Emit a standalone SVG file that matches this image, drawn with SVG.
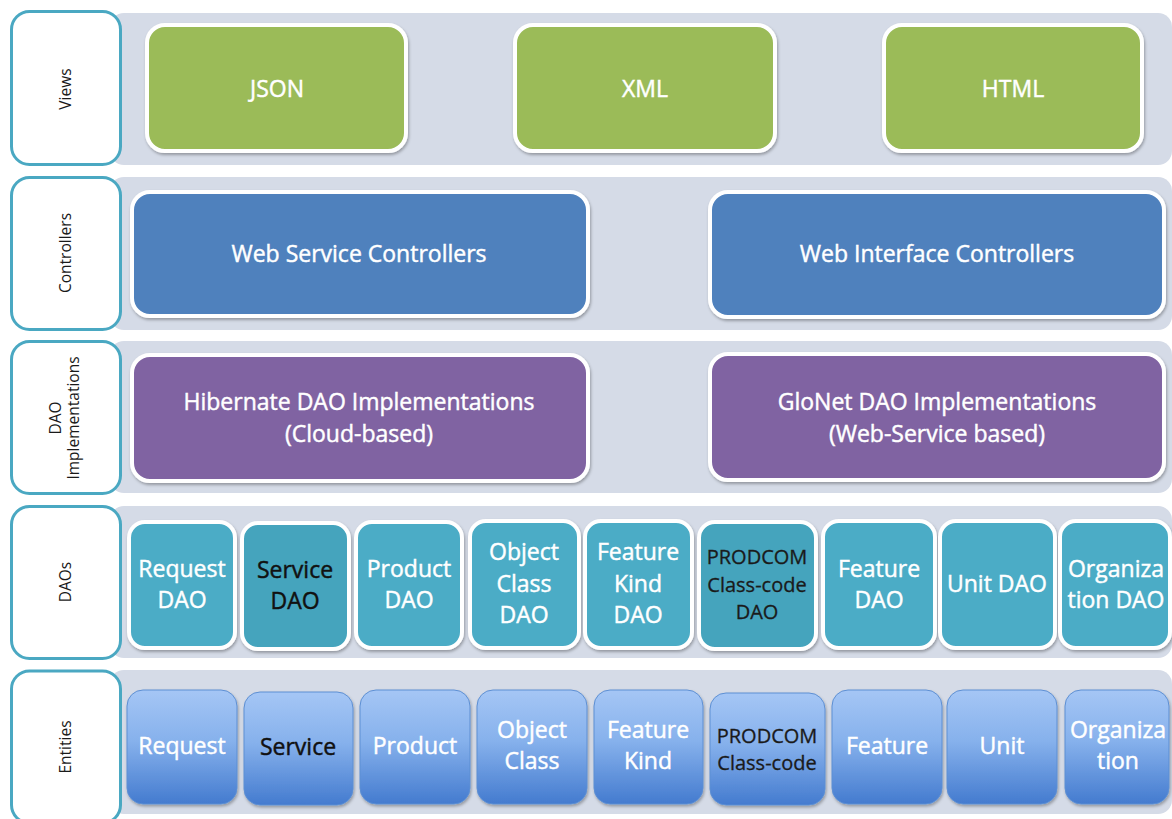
<svg xmlns="http://www.w3.org/2000/svg" width="1172" height="819" viewBox="0 0 1172 819">
<defs>
<style>
text{font-family:"Open Sans","Noto Sans","Liberation Sans",sans-serif;text-anchor:middle}
.band{fill:#d5dbe7}
.lbl rect{fill:#ffffff;stroke:#4aa8c2;stroke-width:3}
.lbl text{font-size:15.5px;fill:#1a1a1a}
.view{fill:#9bbb59;stroke:#ffffff;stroke-width:4}
.ctrl{fill:#4f81bd;stroke:#ffffff;stroke-width:4}
.impl{fill:#8064a2;stroke:#ffffff;stroke-width:4}
.dao{fill:#4bacc6;stroke:#ffffff;stroke-width:4}
.daod{fill:#44a4bd;stroke:#ffffff;stroke-width:4}
.ent{fill:url(#entg);stroke:#5d8fd3;stroke-width:1}
.w{fill:#ffffff;font-size:23px;stroke:#ffffff;stroke-width:0.45}
.k{fill:#111111;font-size:23px;stroke:#111111;stroke-width:0.45}
.ks{fill:#1a1a1a;font-size:20px;stroke:#1a1a1a;stroke-width:0.3}
.sh{filter:url(#sh)}
</style>
<linearGradient id="entg" x1="0" y1="0" x2="0" y2="1">
<stop offset="0" stop-color="#a5c6f5"/>
<stop offset="0.45" stop-color="#86b1ec"/>
<stop offset="1" stop-color="#447bcf"/>
</linearGradient>
<filter id="sh" x="-10%" y="-10%" width="125%" height="130%">
<feDropShadow dx="1" dy="2" stdDeviation="1.8" flood-color="#000000" flood-opacity="0.3"/>
</filter>
</defs>

<g id="bands">
<rect class="band" x="110" y="13" width="1062" height="152" rx="14"/>
<rect class="band" x="110" y="177" width="1062" height="153" rx="14"/>
<rect class="band" x="110" y="341" width="1062" height="152" rx="14"/>
<rect class="band" x="110" y="506" width="1062" height="152" rx="14"/>
<rect class="band" x="110" y="670" width="1062" height="144" rx="14"/>
</g>

<g id="label-views" class="lbl">
<rect x="11.5" y="11.5" width="109" height="153" rx="18"/>
<text transform="translate(70.5,89) rotate(-90)">Views</text>
</g>
<g id="label-controllers" class="lbl">
<rect x="11.5" y="177.5" width="109" height="152" rx="18"/>
<text transform="translate(70.5,253) rotate(-90)">Controllers</text>
</g>
<g id="label-daoimpl" class="lbl">
<rect x="11.5" y="341.5" width="109" height="152" rx="18"/>
<text transform="translate(60.5,418) rotate(-90)">DAO</text>
<text transform="translate(79,418) rotate(-90)">Implementations</text>
</g>
<g id="label-daos" class="lbl">
<rect x="11.5" y="506.5" width="109" height="152" rx="18"/>
<text transform="translate(70.5,582) rotate(-90)">DAOs</text>
</g>
<g id="label-entities" class="lbl">
<rect x="11.5" y="671" width="109" height="152" rx="18"/>
<text transform="translate(70.5,747) rotate(-90)">Entities</text>
</g>

<g id="view-json"><rect class="view sh" x="147" y="25" width="259" height="126" rx="18"/><text class="w" x="277" y="97">JSON</text></g>
<g id="view-xml"><rect class="view sh" x="515" y="25" width="260" height="126" rx="18"/><text class="w" x="645" y="97">XML</text></g>
<g id="view-html"><rect class="view sh" x="884" y="25" width="258" height="126" rx="18"/><text class="w" x="1013" y="97">HTML</text></g>

<g id="ctrl-ws"><rect class="ctrl sh" x="132" y="192" width="456" height="124" rx="18"/><text class="w" x="359" y="262">Web Service Controllers</text></g>
<g id="ctrl-wi"><rect class="ctrl sh" x="710" y="192" width="454" height="125" rx="18"/><text class="w" x="937" y="262">Web Interface Controllers</text></g>

<g id="impl-hibernate"><rect class="impl sh" x="132" y="355" width="456" height="126" rx="18"/><text class="w" x="359" y="410">Hibernate DAO Implementations</text><text class="w" x="359" y="442">(Cloud-based)</text></g>
<g id="impl-glonet"><rect class="impl sh" x="710" y="354" width="454" height="126" rx="18"/><text class="w" x="937" y="410">GloNet DAO Implementations</text><text class="w" x="937" y="442">(Web-Service based)</text></g>

<g id="dao-request"><rect class="dao sh" x="129" y="522" width="106" height="126" rx="16"/><text class="w" x="182" y="577">Request</text><text class="w" x="182" y="608">DAO</text></g>
<g id="dao-service"><rect class="daod sh" x="242" y="523" width="107" height="126" rx="16"/><text class="k" x="295" y="578">Service</text><text class="k" x="295" y="609">DAO</text></g>
<g id="dao-product"><rect class="dao sh" x="356" y="522" width="106" height="126" rx="16"/><text class="w" x="409" y="577">Product</text><text class="w" x="409" y="608">DAO</text></g>
<g id="dao-objectclass"><rect class="dao sh" x="470" y="521" width="109" height="127" rx="16"/><text class="w" x="524" y="560">Object</text><text class="w" x="524" y="592">Class</text><text class="w" x="524" y="623">DAO</text></g>
<g id="dao-featurekind"><rect class="dao sh" x="585" y="521" width="107" height="127" rx="16"/><text class="w" x="638" y="560">Feature</text><text class="w" x="638" y="592">Kind</text><text class="w" x="638" y="623">DAO</text></g>
<g id="dao-prodcom"><rect class="daod sh" x="699" y="522" width="117" height="127" rx="16"/><text class="ks" x="757" y="564">PRODCOM</text><text class="ks" x="757" y="592">Class-code</text><text class="ks" x="757" y="619">DAO</text></g>
<g id="dao-feature"><rect class="dao sh" x="823" y="521" width="112" height="127" rx="16"/><text class="w" x="879" y="577">Feature</text><text class="w" x="879" y="608">DAO</text></g>
<g id="dao-unit"><rect class="dao sh" x="940" y="521" width="115" height="127" rx="16"/><text class="w" x="997" y="592">Unit DAO</text></g>
<g id="dao-organization"><rect class="dao sh" x="1060" y="521" width="110" height="127" rx="16"/><text class="w" x="1116" y="577">Organiza</text><text class="w" x="1116" y="608">tion DAO</text></g>

<g id="ent-request"><rect class="ent sh" x="127" y="690" width="110" height="114" rx="16"/><text class="w" x="182" y="754">Request</text></g>
<g id="ent-service"><rect class="ent sh" x="244" y="692" width="109" height="113" rx="16"/><text class="k" x="298" y="755">Service</text></g>
<g id="ent-product"><rect class="ent sh" x="360" y="690" width="110" height="114" rx="16"/><text class="w" x="415" y="754">Product</text></g>
<g id="ent-objectclass"><rect class="ent sh" x="477" y="690" width="110" height="114" rx="16"/><text class="w" x="532" y="738">Object</text><text class="w" x="532" y="769">Class</text></g>
<g id="ent-featurekind"><rect class="ent sh" x="594" y="690" width="109" height="114" rx="16"/><text class="w" x="648" y="738">Feature</text><text class="w" x="648" y="769">Kind</text></g>
<g id="ent-prodcom"><rect class="ent sh" x="710" y="693" width="115" height="112" rx="16"/><text class="ks" x="767" y="743">PRODCOM</text><text class="ks" x="767" y="770">Class-code</text></g>
<g id="ent-feature"><rect class="ent sh" x="832" y="690" width="110" height="114" rx="16"/><text class="w" x="887" y="754">Feature</text></g>
<g id="ent-unit"><rect class="ent sh" x="947" y="690" width="110" height="114" rx="16"/><text class="w" x="1002" y="754">Unit</text></g>
<g id="ent-organization"><rect class="ent sh" x="1065" y="690" width="104" height="114" rx="16"/><text class="w" x="1118" y="738">Organiza</text><text class="w" x="1118" y="769">tion</text></g>

<g id="connectors"></g>
</svg>
